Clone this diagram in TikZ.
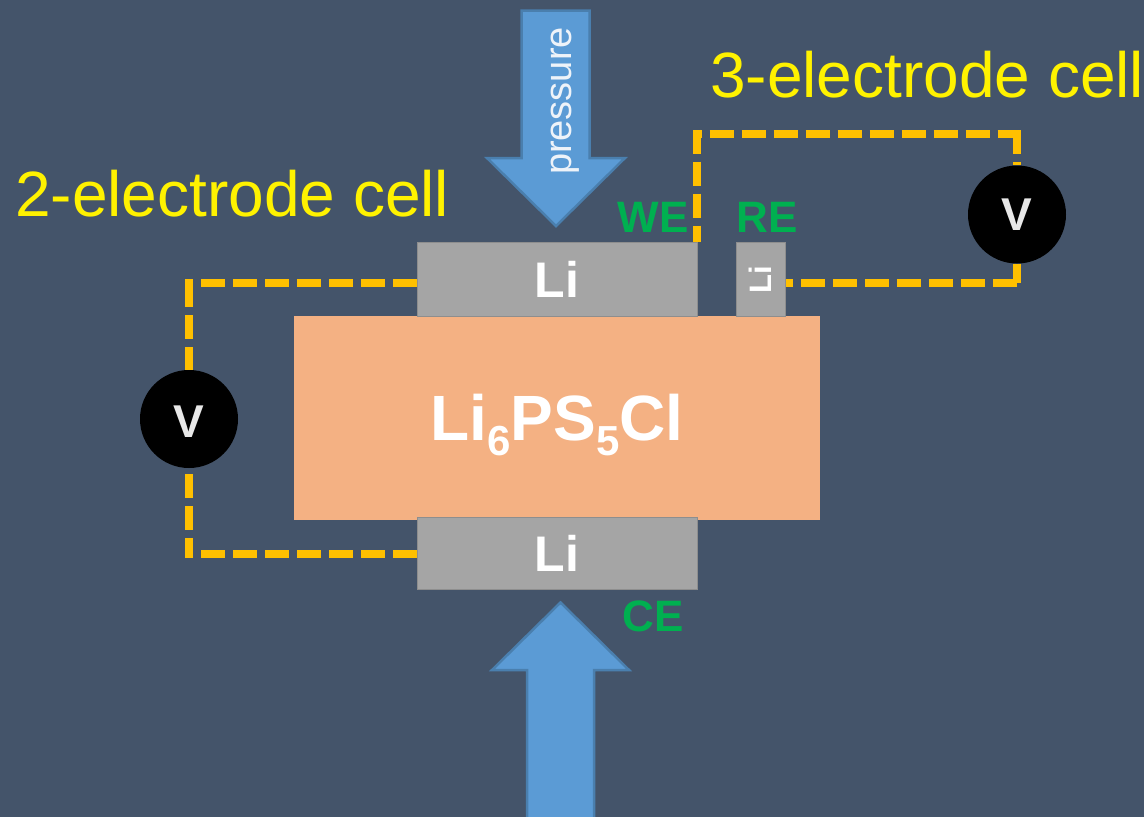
\documentclass[tikz,border=0pt]{standalone}
\usepackage{fontspec}
\setmainfont{Liberation Sans}
\definecolor{bgc}{HTML}{44546A}
\definecolor{arrowfill}{HTML}{5B9BD5}
\definecolor{arrowline}{HTML}{4A7FAE}
\definecolor{ligray}{HTML}{A5A5A5}
\definecolor{liedge}{HTML}{8E8E8E}
\definecolor{saltc}{HTML}{F4B183}
\definecolor{wirec}{HTML}{FFC000}
\definecolor{labelgreen}{HTML}{00B050}
\definecolor{vtext}{HTML}{E8E8E8}
\definecolor{presstext}{HTML}{EEF3F9}
\newcommand{\fs}[1]{\fontsize{#1pt}{#1pt}\selectfont}
\tikzset{
  x=1pt,y=-1pt,
  pressarrow/.style={fill=arrowfill,draw=arrowline,line width=2.5pt,miter limit=10},
  libox/.style={draw=liedge,line width=1pt,fill=ligray,inner sep=0pt,text=white,font=\fs{50}\bfseries},
  saltbox/.style={fill=saltc,inner sep=0pt,text=white,minimum width=526pt,minimum height=204pt,font=\fs{64}\bfseries},
  meter/.style={circle,fill=black,inner sep=0pt,minimum size=98pt,text=vtext,font=\fs{46}\bfseries},
  wire/.style={draw=wirec,line width=8pt,dash pattern=on 24pt off 8pt},
  celltitle/.style={text=yellow,anchor=base west,inner sep=0pt,font=\fs{64}},
  eleclabel/.style={text=labelgreen,anchor=base,inner sep=0pt,font=\fs{44}\bfseries},
}
\begin{document}
\begin{tikzpicture}
\useasboundingbox (0,0) rectangle (1144,817);
\fill[bgc] (0,0) rectangle (1144,817);
% pressure arrows
\draw[pressarrow] (521.5,10.5) -- (589.5,10.5) -- (589.5,158) -- (625,158) -- (556,226) -- (487,158) -- (521.5,158) -- cycle;
\draw[pressarrow] (527,820) -- (527,670) -- (492,670) -- (560.5,602.5) -- (629,670) -- (594,670) -- (594,820);
\node[rotate=90,anchor=base,inner sep=0pt,text=presstext,font=\fs{38}] (press) at (571,101) {pressure};
% stack
\node[saltbox] (salt) at (557,418) {Li\raisebox{-15pt}[0pt][0pt]{\fs{42}6}PS\raisebox{-15pt}[0pt][0pt]{\fs{42}5}Cl};
\node[libox,minimum width=280pt,minimum height=74pt] (liT) at (557,279.5) {Li};
\node[libox,minimum width=280pt,minimum height=72pt] (liB) at (557,553) {Li};
\node[libox,minimum width=49pt,minimum height=74pt,font=\fs{31}\bfseries] (liR) at (760.5,279.5) {\rotatebox{90}{Li}};
% meters
\node[meter] (vL) at (189,419) {\raisebox{-2.5pt}[\height][0pt]{V}};
\node[meter] (vR) at (1017,214.5) {V};
% corners of the wiring
\coordinate (cTL) at (189,283);
\coordinate (cBL) at (189,554);
\coordinate (cW) at (696.5,133.5);
\coordinate (cTR) at (1017,133.5);
\coordinate (cBR) at (1017,282.5);
% 2-electrode wiring
\draw[wire,shorten >=-4pt] (liT.west |- cTL) -- (cTL);
\draw[wire] (cTL) -- (vL.north);
\draw[wire,dash phase=26pt,shorten >=-4pt] (vL.south) -- (cBL);
\draw[wire,shorten >=-4pt] (liB.west |- cBL) -- (cBL);
% 3-electrode wiring
\draw[wire,shorten <=-4pt] (cW) -- (cW |- liT.north);
\draw[wire,dash phase=19pt,shorten >=-4pt] (cW) -- (cTR);
\draw[wire,shorten <=-3.5pt] (cTR) -- (vR.north);
\draw[wire,dash phase=5pt,shorten >=-4pt] (vR.south) -- (cBR);
\draw[wire] (cBR) -- (liR.east |- cBR);
% labels
\node[celltitle] (t3) at (710,97) {3-electrode cell};
\node[celltitle] (t2) at (15,216) {2-electrode cell};
\node[eleclabel] (we) at (653,232) {WE};
\node[eleclabel] (re) at (767.5,232) {RE};
\node[eleclabel] (ce) at (653,631) {CE};
\end{tikzpicture}
\end{document}
